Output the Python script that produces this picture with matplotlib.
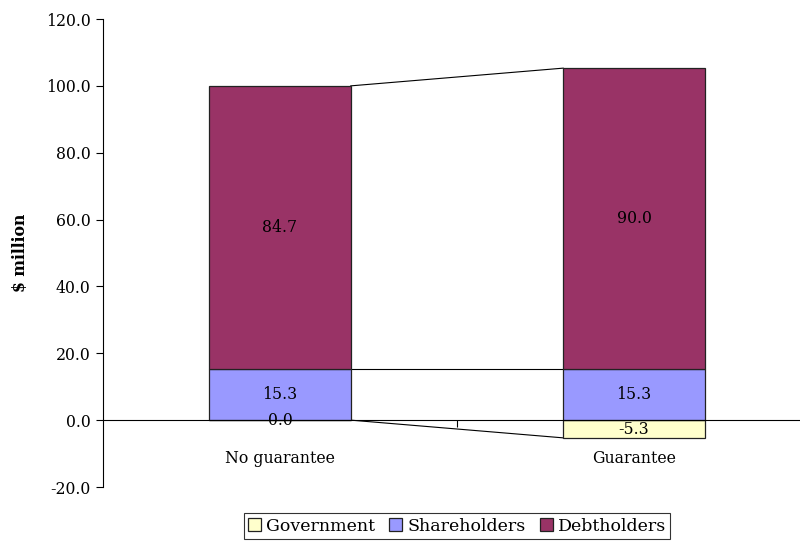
import matplotlib
matplotlib.use("Agg")
import matplotlib.pyplot as plt
import numpy as np

categories = ["No guarantee", "Guarantee"]
government = [0.0, -5.3]
shareholders = [15.3, 15.3]
debtholders = [84.7, 90.0]
series_names = ["Government", "Shareholders", "Debtholders"]
colors = ["#FFFFCC", "#9999FF", "#993366"]
yticks = [-20, 0, 20, 40, 60, 80, 100, 120]

plt.rcParams['font.family'] = ['DejaVu Serif']

fig = plt.figure(figsize=(8.0, 5.49), dpi=100)
ax = fig.add_axes([103/800, 62/549, 708/800, 468/549])

x = np.arange(len(categories))
w = 0.4
gov = np.array(government)
sh = np.array(shareholders)
de = np.array(debtholders)

sh_bottom = np.where(gov > 0, gov, 0)
de_bottom = sh_bottom + sh

ec = "#222222"
ax.bar(x, gov, w, bottom=0, color=colors[0], edgecolor=ec, linewidth=0.9, label=series_names[0], zorder=3)
ax.bar(x, sh, w, bottom=sh_bottom, color=colors[1], edgecolor=ec, linewidth=0.9, label=series_names[1], zorder=3)
ax.bar(x, de, w, bottom=de_bottom, color=colors[2], edgecolor=ec, linewidth=0.9, label=series_names[2], zorder=3)

# series lines
for ends in [gov, sh_bottom + sh, de_bottom + de]:
    ax.plot([x[0] + w/2, x[1] - w/2], [ends[0], ends[1]], color="black", linewidth=0.8, zorder=2)

fs = 11.3
for i in range(len(categories)):
    ax.text(x[i], gov[i]/2, f"{gov[i]:.1f}", ha="center", va="center", fontsize=fs, zorder=5)
    ax.text(x[i], sh_bottom[i] + sh[i]/2, f"{sh[i]:.1f}", ha="center", va="center", fontsize=fs, zorder=5)
    ax.text(x[i], de_bottom[i] + de[i]/2, f"{de[i]:.1f}", ha="center", va="center", fontsize=fs, zorder=5)

ax.set_xlim(-0.5, 1.5)
ax.set_ylim(-20, 120)
ax.set_yticks(yticks)
ax.set_yticklabels([f"{v:.1f}" for v in yticks], fontsize=fs)
ax.tick_params(axis="y", direction="out", length=5, width=0.8, pad=4)

ax.spines["top"].set_visible(False)
ax.spines["right"].set_visible(False)
ax.spines["bottom"].set_position(("data", 0))
ax.spines["bottom"].set_zorder(4)
ax.spines["left"].set_linewidth(0.8)
ax.spines["bottom"].set_linewidth(0.8)

ax.set_xticks([0.5])
ax.set_xticklabels([""])
ax.tick_params(axis="x", direction="out", length=5, width=0.8)
for i, c in enumerate(categories):
    ax.text(x[i], -11.5, c, ha="center", va="center", fontsize=fs)

ax.set_ylabel("$ million", fontsize=fs, fontweight="bold", labelpad=12)

leg = ax.legend(loc="upper center", bbox_to_anchor=(354/708, -0.056), ncol=3, frameon=True,
                fancybox=False, edgecolor="black", fontsize=12.5, handlelength=0.75, handleheight=0.75,
                handletextpad=0.3, columnspacing=0.8, borderpad=0.25, borderaxespad=0)
leg.get_frame().set_linewidth(0.8)

fig.savefig("out.png", dpi=100)
